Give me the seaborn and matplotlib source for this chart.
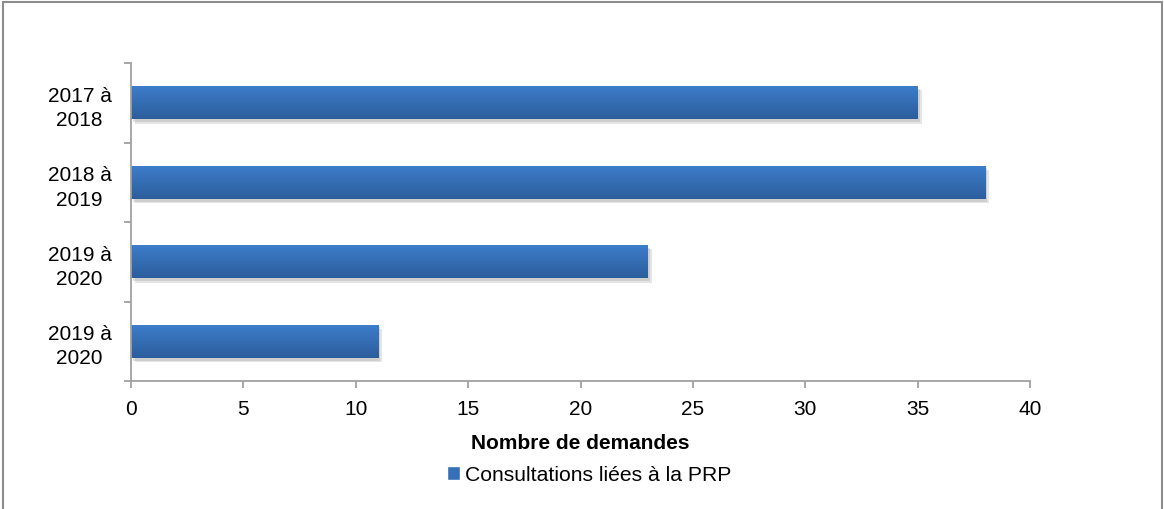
import numpy as np
import pandas as pd
import matplotlib
matplotlib.use("Agg")
import matplotlib.pyplot as plt
import matplotlib.patheffects as pe
from matplotlib.patches import Rectangle
import seaborn as sns

# Data (top to bottom as shown in the chart)
periodes = ["2017 à\n2018", "2018 à\n2019", "2019 à\n2020", "2019 à\n2020"]
demandes = [35, 38, 23, 11]
serie = "Consultations liées à la PRP"

df = pd.DataFrame({"pos": [str(i) for i in range(len(periodes))], "demandes": demandes})

sns.set_theme(style="white")
plt.rcParams["font.family"] = ["Liberation Sans", "DejaVu Sans"]
plt.rcParams["text.color"] = "black"
plt.rcParams["xtick.color"] = "black"
plt.rcParams["ytick.color"] = "black"

W, H = 1164, 510
fig = plt.figure(figsize=(W / 100, H / 100), dpi=100)
ax = fig.add_axes([131 / W, 1 - 382 / H, (1030 - 131) / W, (382 - 64) / H])

base = "#3570b8"
sns.barplot(data=df, x="demandes", y="pos", orient="h", order=df["pos"].tolist(),
            color=base, width=0.42, saturation=1, linewidth=0, ax=ax)

# vertical gradient + soft shadow, like the original office-style bars
grad = np.linspace(0, 1, 64).reshape(-1, 1)
cmap = matplotlib.colors.LinearSegmentedColormap.from_list("bar", ["#3d7ecb", "#2c5d9c"])
for p in ax.patches:
    p.set_linewidth(0)
    p.set_path_effects([pe.SimplePatchShadow(offset=(3, -3), shadow_rgbFace="#9a9a9a", alpha=0.25),
                        pe.SimplePatchShadow(offset=(1.5, -2), shadow_rgbFace="#9a9a9a", alpha=0.3),
                        pe.Normal()])
    x0, y0 = p.get_x(), p.get_y()
    w, h = p.get_width(), p.get_height()
    im = ax.imshow(grad, extent=(x0, x0 + w, y0 + h, y0), cmap=cmap, aspect="auto",
                   origin="upper", zorder=p.get_zorder() + 0.1)
    im.set_clip_path(p)

ax.set_xlim(0, 40)
ax.set_ylim(len(periodes) - 0.5, -0.5)
ax.set_xticks(range(0, 41, 5))

# category boundaries as major ticks, labels on minor ticks
ax.set_yticks(np.arange(-0.5, len(periodes), 1.0))
ax.set_yticklabels([])
ax.set_yticks(range(len(periodes)), minor=True)
ax.set_yticklabels(periodes, minor=True, fontsize=15, ha="center", linespacing=1.35)
ax.tick_params(axis="y", which="minor", length=0, pad=37)
ax.tick_params(axis="y", which="major", length=5, width=1.3, color="#a0a0a0", left=True)
ax.tick_params(axis="x", length=5, width=1.3, color="#a0a0a0", bottom=True,
               labelsize=15, labelcolor="black", pad=8)

for s in ["top", "right"]:
    ax.spines[s].set_visible(False)
for s in ["left", "bottom"]:
    ax.spines[s].set_color("#a0a0a0")
    ax.spines[s].set_linewidth(1.3)

ax.set_xlabel("Nombre de demandes", fontsize=15, fontweight="bold", labelpad=11, color="black")
ax.set_ylabel("")

handle = Rectangle((0, 0), 1, 1, facecolor=base)
fig.legend([handle], [serie], loc="center", bbox_to_anchor=(589 / W, 1 - 476 / H),
           frameon=False, fontsize=15.2, handlelength=0.6, handleheight=0.6,
           handletextpad=0.25)

# outer frame
fig.patches.append(Rectangle((3 / W, -0.02), (1162 - 3) / W, 1 - 3 / H + 0.02,
                             transform=fig.transFigure, fill=False,
                             edgecolor="#8c8c8c", linewidth=1.5))

fig.savefig("out.png", dpi=100)
